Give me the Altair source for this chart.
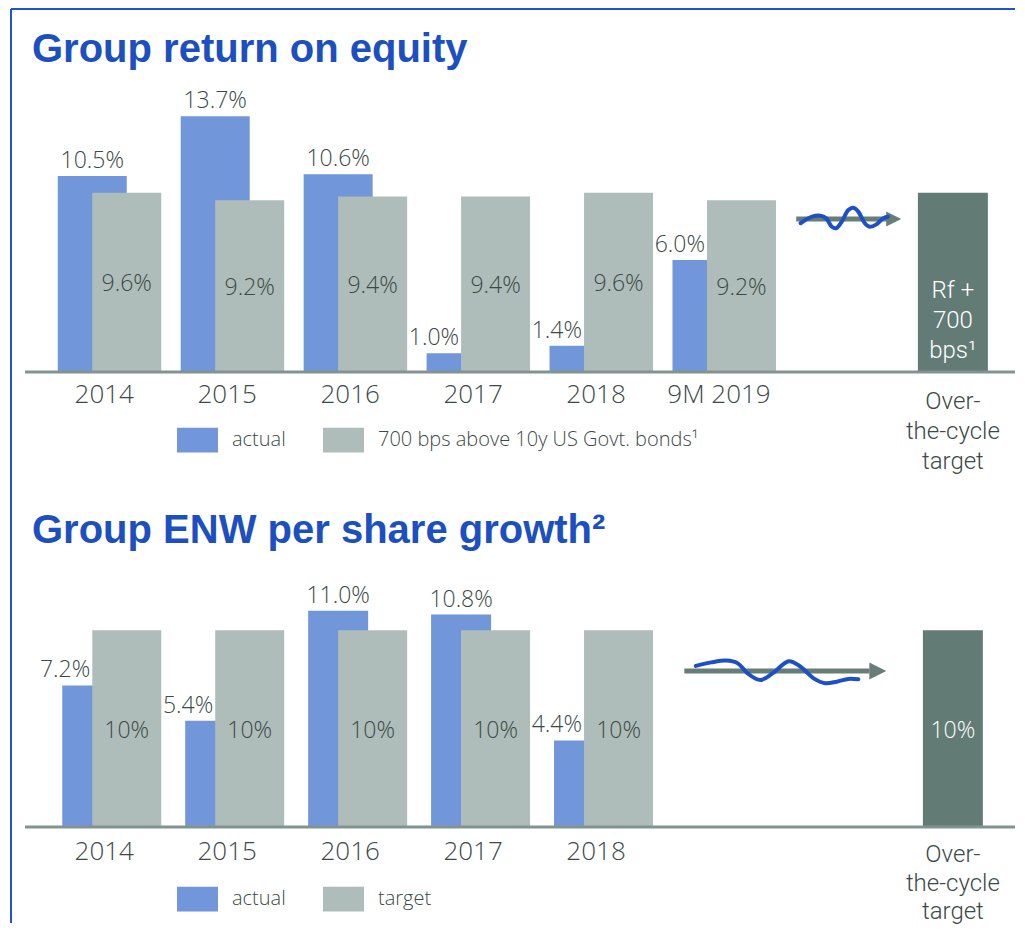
import altair as alt
import pandas as pd

# ---------------- data ----------------
titles = ["Group return on equity", "Group ENW per share growth\u00b2"]

years_top = ["2014", "2015", "2016", "2017", "2018", "9M 2019"]
roe_actual = [10.5, 13.7, 10.6, 1.0, 1.4, 6.0]
roe_target = [9.6, 9.2, 9.4, 9.4, 9.6, 9.2]
series_top = ["actual", "700 bps above 10y US Govt. bonds\u00b9"]

years_bot = ["2014", "2015", "2016", "2017", "2018"]
enw_actual = [7.2, 5.4, 11.0, 10.8, 4.4]
enw_target = [10.0, 10.0, 10.0, 10.0, 10.0]
series_bot = ["actual", "target"]

otc_lines = ["Over-", "the-cycle", "target"]
otc_roe_text = ["Rf +", "700", "bps\u00b9"]
otc_roe_level = [9.6]
otc_enw_text = ["10%"]
otc_enw_level = [10.0]

# decorative trend arrow + wavy line (x in category-slot units, y in percent)
wave_top_x = [6.163, 6.257, 6.324, 6.372, 6.418, 6.452, 6.498, 6.552, 6.593, 6.633, 6.686, 6.726, 6.780, 6.834, 6.874]
wave_top_y = [7.97, 8.32, 8.37, 8.23, 7.78, 7.70, 8.05, 8.68, 8.80, 8.59, 7.97, 7.78, 7.91, 8.23, 8.32]
shaft_top_x = [6.128, 6.870]
shaft_top_y = [8.20, 8.20]
head_top_x = [6.921]
head_top_y = [8.20]

wave_bot_x = [5.312, 5.438, 5.559, 5.653, 5.733, 5.836, 5.935, 6.069, 6.163, 6.270, 6.364, 6.458, 6.552, 6.633]
wave_bot_y = [8.19, 8.37, 8.46, 8.32, 7.81, 7.47, 7.81, 8.43, 8.15, 7.56, 7.31, 7.39, 7.53, 7.51]
shaft_bot_x = [5.218, 6.724]
shaft_bot_y = [7.93, 7.93]
head_bot_x = [6.792]
head_bot_y = [7.93]

# ---------------- styles ----------------
FONT = "Open Sans"
MFONT = "Roboto"          # compact font for the stacked multi-line labels
TFONT = "Liberation Sans"
BLUE = "#7196d9"
GRAY = "#afbdba"
DARK = "#627b75"
TXT = "#3b4a46"
TITLE_C = "#1c4fbf"
WAVE_C = "#1d4fc6"
ARROW_C = "#667e77"
BASE_C = "#82948f"
BORDER_C = "#1f55c8"

W = 990
N_SLOTS = 8
X_DOMAIN = [-0.104, 7.867]   # slot units shown across the plot width
OTC = "\n".join(otc_lines)
RECT = "M-1,-0.6H1V0.6H-1Z"
TRI = "M-1,-1L1,0L-1,1Z"


def panel(cats, actual, target, series, tgt_fmt, y_max, height, blue_w, otc_w,
          otc_level, otc_text, wave_x, wave_y, shaft_x, shaft_y, head_x, head_y, head_size,
          legend_y, title, title_y, year_y, otc_y, otc_lh, border):
    n = len(cats)
    slot_pos = [i + 0.5 for i in range(n)]
    otc_pos = [N_SLOTS - 0.5]
    long_df = pd.DataFrame({"cat": cats * 2, "pos": slot_pos * 2,
                            "series": [series[0]] * n + [series[1]] * n,
                            "value": actual + target})
    wide_df = pd.DataFrame({"cat": cats, "pos": slot_pos, "actual": actual, "target": target})
    otc_df = pd.DataFrame({"pos": otc_pos, "level": otc_level, "txt": ["\n".join(otc_text)],
                           "name": [OTC]})
    title_df = pd.DataFrame({"t": [title]})

    xs = alt.Scale(domain=X_DOMAIN, nice=False, zero=False)
    ys = alt.Scale(domain=[0, y_max], nice=False, zero=True)
    x_of = lambda f: alt.X(f, scale=xs, axis=None)
    y_of = lambda f: alt.Y(f, scale=ys, axis=None)

    color = alt.Color("series:N", scale=alt.Scale(domain=series, range=[BLUE, GRAY]),
                      legend=alt.Legend(title=None, orient="none", legendX=152, legendY=legend_y,
                                        direction="horizontal", symbolType=RECT, symbolSize=1681,
                                        symbolStrokeWidth=0, symbolOpacity=1,
                                        labelFont=FONT, labelFontWeight=300, labelFontSize=20,
                                        labelColor=TXT, labelOffset=14, columnPadding=37,
                                        labelLimit=0))

    txt = dict(font=FONT, fontWeight=300, fontSize=23, color=TXT)

    blue = alt.Chart(long_df).transform_filter(alt.datum.series == series[0]).mark_bar(
        width=blue_w, xOffset=-12).encode(x=x_of("pos:Q"), y=y_of("value:Q"), color=color)
    gray = alt.Chart(long_df).transform_filter(alt.datum.series == series[1]).mark_bar(
        width=69, xOffset=22.5).encode(x=x_of("pos:Q"), y=y_of("value:Q"), color=color)
    otc_bar = alt.Chart(otc_df).mark_bar(width=otc_w, xOffset=-12, color=DARK).encode(
        x=x_of("pos:Q"), y=y_of("level:Q"))
    base = alt.Chart(otc_df).transform_calculate(zero="0").mark_rule(
        color=BASE_C, strokeWidth=3).encode(x=alt.value(0), x2=alt.value(W), y=y_of("zero:Q"))

    lab_c = alt.Chart(wide_df).transform_filter("datum.actual >= datum.target").transform_calculate(
        lbl="format(datum.actual, '.1f') + '%'").mark_text(
        xOffset=-12, dy=-8, baseline="alphabetic", align="center", **txt).encode(
        x=x_of("pos:Q"), y=y_of("actual:Q"), text="lbl:N")
    lab_r = alt.Chart(wide_df).transform_filter("datum.actual < datum.target").transform_calculate(
        lbl="format(datum.actual, '.1f') + '%'").mark_text(
        xOffset=-14, dy=-8, baseline="alphabetic", align="right", **txt).encode(
        x=x_of("pos:Q"), y=y_of("actual:Q"), text="lbl:N")
    lab_t = alt.Chart(wide_df).transform_calculate(
        half="datum.target / 2", lbl="format(datum.target, '" + tgt_fmt + "') + '%'").mark_text(
        xOffset=22.5, dy=2, baseline="middle", align="center", **txt).encode(
        x=x_of("pos:Q"), y=y_of("half:Q"), text="lbl:N")
    multi = len(otc_text) > 1
    if multi:
        lab_o = alt.Chart(otc_df).transform_calculate(half="datum.level / 2").mark_text(
            xOffset=-12, dy=9, baseline="middle", align="center",
            lineBreak="\n", lineHeight=30, font=MFONT, fontWeight=300, fontSize=24,
            color="white").encode(x=x_of("pos:Q"), y=y_of("half:Q"), text="txt:N")
    else:
        lab_o = alt.Chart(otc_df).transform_calculate(half="datum.level / 2").mark_text(
            xOffset=-12, dy=2, baseline="middle", align="center",
            font=FONT, fontWeight=300, fontSize=23,
            color="white").encode(x=x_of("pos:Q"), y=y_of("half:Q"), text="txt:N")
    # category labels under the baseline
    lab_x = alt.Chart(wide_df).mark_text(
        baseline="middle", align="center", font=FONT, fontWeight=300, fontSize=26,
        color=TXT).encode(x=x_of("pos:Q"), y=alt.value(height + year_y), text="cat:N")
    lab_n = alt.Chart(otc_df).mark_text(
        xOffset=-12, baseline="top", align="center", lineBreak="\n", lineHeight=otc_lh,
        font=MFONT, fontWeight=300, fontSize=24, color=TXT).encode(
        x=x_of("pos:Q"), y=alt.value(height + otc_y), text="name:N")
    ttl = alt.Chart(title_df).mark_text(align="left", baseline="alphabetic", font=TFONT,
                                        fontWeight="bold", fontSize=40, color=TITLE_C).encode(
        x=alt.value(7), y=alt.value(title_y), text="t:N")

    shaft_df = pd.DataFrame({"x": shaft_x, "y": shaft_y})
    head_df = pd.DataFrame({"x": head_x, "y": head_y})
    wave_df = pd.DataFrame({"x": wave_x, "y": wave_y})
    shaft = alt.Chart(shaft_df).mark_line(color=ARROW_C, strokeWidth=5).encode(
        x=x_of("x:Q"), y=y_of("y:Q"))
    head = alt.Chart(head_df).mark_point(shape=TRI, filled=True, size=head_size, opacity=1,
                                         color=ARROW_C, strokeWidth=0).encode(
        x=x_of("x:Q"), y=y_of("y:Q"))
    wave = alt.Chart(wave_df).mark_line(color=WAVE_C, strokeWidth=4, interpolate="catmull-rom",
                                        strokeCap="round").encode(
        x=x_of("x:Q"), y=y_of("y:Q"))

    layers = [blue, gray, otc_bar, base, lab_c, lab_r, lab_t, lab_o, lab_x, lab_n, ttl,
              shaft, head, wave]
    if border:
        layers.append(alt.Chart(title_df).mark_rule(color=BORDER_C, strokeWidth=2).encode(
            x=alt.value(-14), x2=alt.value(W), y=alt.value(-83)))
        layers.append(alt.Chart(title_df).mark_rule(color=BORDER_C, strokeWidth=2).encode(
            x=alt.value(-14), y=alt.value(-83), y2=alt.value(831)))

    return alt.layer(*layers).properties(width=W, height=height)


top = panel(years_top, roe_actual, roe_target, series_top, ".1f",
            15, 280, 69, 70, otc_roe_level, otc_roe_text,
            wave_top_x, wave_top_y, shaft_top_x, shaft_top_y, head_top_x, head_top_y, 225,
            327.5, titles[0], -30, 23, 18, 30, True)
bot = panel(years_bot, enw_actual, enw_target, series_bot, ".0f",
            12, 236, 60, 60, otc_enw_level, otc_enw_text,
            wave_bot_x, wave_bot_y, shaft_bot_x, shaft_bot_y, head_bot_x, head_bot_y, 289,
            287.5, titles[1], -48, 25, 16, 28.5, False)

chart = alt.vconcat(top, bot, spacing=219, bounds="flush").resolve_scale(
    color="independent").properties(
    padding={"left": 2, "top": 0, "right": 0, "bottom": 0}, background="white"
).configure_view(stroke=None)

chart.save("out.html", embed_options={"renderer": "svg", "actions": False})
